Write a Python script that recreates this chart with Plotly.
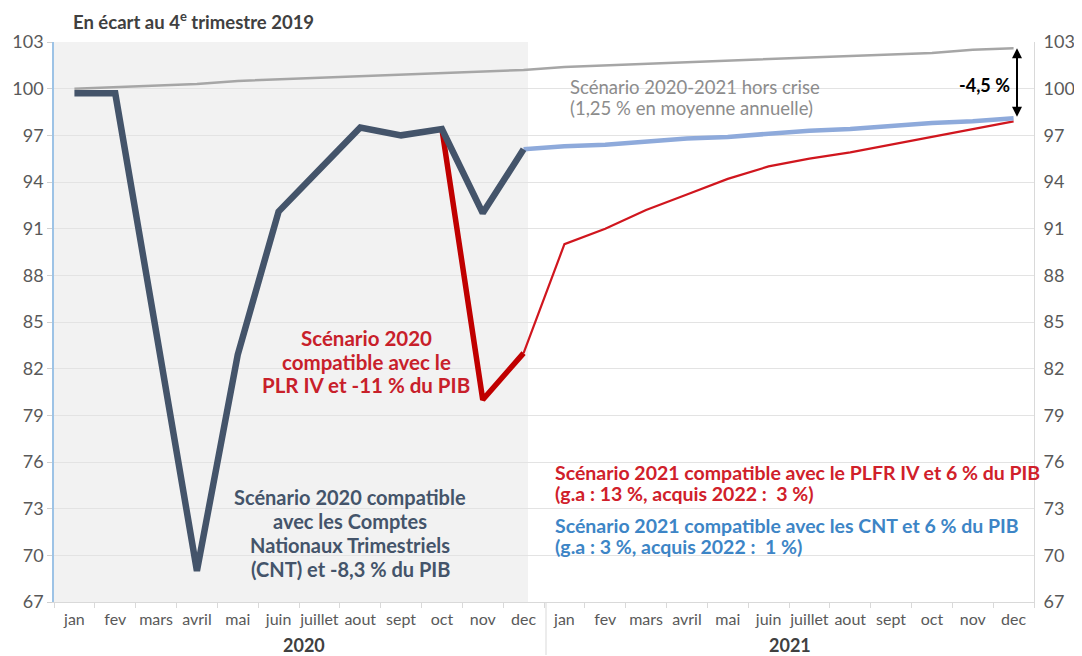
import plotly.graph_objects as go

months = ["jan", "fev", "mars", "avril", "mai", "juin", "juillet", "aout", "sept", "oct", "nov", "dec"]
tick_labels = months + months
x_all = list(range(24))
x_2020 = list(range(12))
x_red_2020 = [9, 10, 11]
x_2021 = list(range(11, 24))

hors_crise = [100.0, 100.1, 100.2, 100.3, 100.5, 100.6, 100.7, 100.8, 100.9, 101.0, 101.1, 101.2,
              101.4, 101.5, 101.6, 101.7, 101.8, 101.9, 102.0, 102.1, 102.2, 102.3, 102.5, 102.6]
cnt_2020 = [99.7, 99.7, 84.4, 69.0, 82.9, 92.1, 94.8, 97.5, 97.0, 97.4, 92.0, 96.1]
plr_2020 = [97.4, 80.0, 83.0]
plfr_2021 = [83.0, 90.0, 91.0, 92.2, 93.2, 94.2, 95.0, 95.5, 95.9, 96.4, 96.9, 97.4, 97.9]
cnt_2021 = [96.1, 96.3, 96.4, 96.6, 96.8, 96.9, 97.1, 97.3, 97.4, 97.6, 97.8, 97.9, 98.1]
y_ticks = [67, 70, 73, 76, 79, 82, 85, 88, 91, 94, 97, 100, 103]

FONT = "Lato"
GREY_TXT = "#595959"
NAVY = "#44546a"
RED = "#c00000"
LBLUE = "#8eaadb"

# page body has an 8px margin: figure is drawn 8px right/down of page origin
OFF = 8
W, H = 1082 - OFF, 656 - OFF
# plot area in page pixels: x 54..1034, y 42..602
PL, PR, PT, PB = 54, 1034, 42, 602
ML, MT = PL - OFF, PT - OFF
MR, MB = W - (PR - OFF), H - (PB - OFF)
PW = PR - PL
PH = PB - PT
Y0, Y1 = 67, 103


def px_x(px):
    return (px - PL) / PW * 24 - 0.5


def px_y(py):
    return Y1 - (py - PT) / PH * (Y1 - Y0)


def paper_x(px):
    return (px - PL) / PW


def paper_y(py):
    return (PB - py) / PH


fig = go.Figure()
fig.add_trace(go.Scatter(x=x_all, y=hors_crise, mode="lines",
                         line=dict(color="#a6a6a6", width=2.5), hoverinfo="skip"))
fig.add_trace(go.Scatter(x=x_2021, y=plfr_2021, mode="lines",
                         line=dict(color="#d0161e", width=2.2), hoverinfo="skip"))
fig.add_trace(go.Scatter(x=x_2021, y=cnt_2021, mode="lines",
                         line=dict(color=LBLUE, width=4.5), hoverinfo="skip"))
fig.add_trace(go.Scatter(x=x_red_2020, y=plr_2020, mode="lines",
                         line=dict(color=RED, width=5.5), hoverinfo="skip"))
fig.add_trace(go.Scatter(x=x_2020, y=cnt_2020, mode="lines",
                         line=dict(color=NAVY, width=6.5), hoverinfo="skip"))
fig.add_trace(go.Scatter(x=[0], y=[67], yaxis="y2", mode="markers",
                         marker=dict(opacity=0), hoverinfo="skip"))

fig.update_layout(
    width=W, height=H,
    margin=dict(l=ML, r=MR, t=MT, b=MB, autoexpand=False),
    paper_bgcolor="white", plot_bgcolor="white",
    showlegend=False,
    font=dict(family=FONT, color=GREY_TXT),
    xaxis=dict(range=[-0.5, 23.5], tickmode="array", tickvals=x_all, ticktext=tick_labels,
               tickangle=0, automargin=False,
               tickfont=dict(size=16, color=GREY_TXT), showgrid=False, zeroline=False,
               showline=True, linecolor="#d9d9d9", linewidth=1, ticks="", ticklabelstandoff=3,
               minor=dict(tick0=-0.5, dtick=1, ticks="outside", ticklen=5, tickcolor="#d9d9d9",
                          showgrid=False)),
    yaxis=dict(range=[Y0, Y1], tickmode="array", tickvals=y_ticks, automargin=False,
               tickfont=dict(size=18, color=GREY_TXT), showgrid=True, gridcolor="#e3e3e3",
               zeroline=False, showline=True, linecolor="#9dc3e6", linewidth=1.5,
               ticks="outside", ticklen=5, tickcolor="#d0d0d0"),
    yaxis2=dict(range=[Y0, Y1], tickmode="array", tickvals=y_ticks, overlaying="y", side="right",
                automargin=False,
                tickfont=dict(size=18, color=GREY_TXT), showgrid=False, zeroline=False,
                showline=True, linecolor="#d9d9d9", linewidth=1, ticks="", ticklabelstandoff=5),
)

shapes = [
    dict(type="rect", xref="x", yref="y", x0=-0.5, x1=px_x(528), y0=Y0, y1=Y1,
         fillcolor="#f2f2f2", line=dict(width=0), layer="below"),
    dict(type="line", xref="x", yref="paper", x0=px_x(546), x1=px_x(546), y0=0,
         y1=paper_y(655), line=dict(color="#d9d9d9", width=1)),
]
fig.update_layout(shapes=shapes)

ann = [
    dict(xref="paper", yref="paper", x=paper_x(71), y=paper_y(21), xanchor="left",
         yanchor="middle", text="<b>En écart au 4<sup>e</sup> trimestre 2019</b>", showarrow=False,
         font=dict(size=18.5, color="#404040", family=FONT)),
    dict(xref="paper", yref="paper", x=paper_x(304), y=paper_y(645), text="<b>2020</b>",
         showarrow=False, xanchor="center", yanchor="middle",
         font=dict(size=18, color="#404040", family=FONT)),
    dict(xref="paper", yref="paper", x=paper_x(790), y=paper_y(645), text="<b>2021</b>",
         showarrow=False, xanchor="center", yanchor="middle",
         font=dict(size=18, color="#404040", family=FONT)),
    dict(x=px_x(1012), y=px_y(85), xanchor="right", yanchor="middle", showarrow=False,
         text="<b>-4,5 %</b>", font=dict(size=18, color="black", family=FONT)),
    dict(x=px_x(1017), y=hors_crise[-1], ax=px_x(1017), ay=cnt_2021[-1], xref="x", yref="y",
         axref="x", ayref="y",
         showarrow=True, arrowhead=2, arrowside="end+start", arrowsize=1, arrowwidth=2,
         arrowcolor="black", standoff=0, startstandoff=0, text=""),
]


def add_lines(lines, px, pys, anchor, color, size, bold=True):
    for line, py in zip(lines, pys):
        txt = f"<b>{line}</b>" if bold else line
        ann.append(dict(x=px_x(px), y=px_y(py), xanchor=anchor, yanchor="middle", showarrow=False,
                        text=txt, font=dict(size=size, color=color, family=FONT)))


add_lines(["Scénario 2020-2021 hors crise", "(1,25 % en moyenne annuelle)"],
          568, [87, 108], "left", "#8c8c8c", 18.5, bold=False)
add_lines(["Scénario 2020", "compatible avec le", "PLR IV et -11 % du PIB"],
          366, [338, 362, 385], "center", "#c8202a", 20.5)
add_lines(["Scénario 2020 compatible", "avec les Comptes", "Nationaux Trimestriels",
           "(CNT) et -8,3 % du PIB"],
          350, [497, 521, 545, 569], "center", NAVY, 20)
add_lines(["Scénario 2021 compatible avec le PLFR IV et 6 % du PIB",
           "(g.a : 13 %, acquis 2022 :  3 %)"],
          553, [472, 493], "left", "#d0202a", 19.5)
add_lines(["Scénario 2021 compatible avec les CNT et 6 % du PIB",
           "(g.a : 3 %, acquis 2022 :  1 %)"],
          553, [525, 546], "left", "#3d85c6", 19.5)

fig.update_layout(annotations=ann)

fig.write_html("out.html")
